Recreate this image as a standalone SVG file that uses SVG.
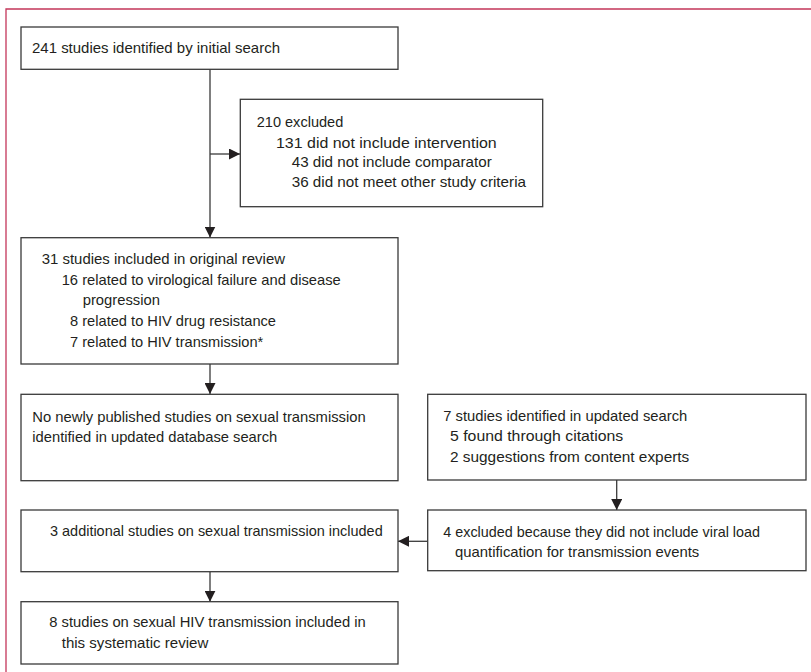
<svg xmlns="http://www.w3.org/2000/svg" width="811" height="672" viewBox="0 0 811 672">
<style>
.box{fill:#fff;stroke:#3a3a3a;stroke-width:1.3}
.t{font-family:"Liberation Sans",Arial,sans-serif;font-size:15px;fill:#231f20}
.c{stroke:#3a3a3a;stroke-width:1.3;fill:none;marker-end:url(#ah)}
.frame{stroke:#c4365a;stroke-width:1.3;fill:none}
</style>
<defs>
<marker id="ah" markerUnits="userSpaceOnUse" markerWidth="12" markerHeight="11" refX="11" refY="5.5" orient="auto">
<path d="M0,0 L11,5.5 L0,11 z" fill="#231f20"/>
</marker>
</defs>
<rect width="811" height="672" fill="#fff"/>
<path class="frame" d="M6,672 L6,9 L811,9"/>
<g id="connectors">
<line class="c" x1="210" y1="69" x2="210" y2="237.5"/>
<line class="c" x1="210" y1="154" x2="240" y2="154"/>
<line class="c" x1="210" y1="364" x2="210" y2="394"/>
<line class="c" x1="616.7" y1="480" x2="616.7" y2="510"/>
<line class="c" x1="427.7" y1="541.3" x2="398" y2="541.3"/>
<line class="c" x1="210" y1="571.7" x2="210" y2="601.7"/>
</g>
<g id="n1">
<rect class="box" x="21" y="27" width="377" height="42.3"/>
<text class="t" x="32" y="53" textLength="248" lengthAdjust="spacingAndGlyphs">241 studies identified by initial search</text>
</g>
<g id="n2">
<rect class="box" x="240.3" y="99.3" width="302.4" height="107.4"/>
<text class="t" x="256.7" y="127" textLength="86.6" lengthAdjust="spacingAndGlyphs">210 excluded</text>
<text class="t" x="276" y="148" textLength="220.7" lengthAdjust="spacingAndGlyphs">131 did not include intervention</text>
<text class="t" x="291.7" y="167" textLength="200" lengthAdjust="spacingAndGlyphs">43 did not include comparator</text>
<text class="t" x="291.7" y="187" textLength="234.3" lengthAdjust="spacingAndGlyphs">36 did not meet other study criteria</text>
</g>
<g id="n3">
<rect class="box" x="21" y="237.7" width="377" height="126.3"/>
<text class="t" x="41.7" y="264" textLength="243.3" lengthAdjust="spacingAndGlyphs">31 studies included in original review</text>
<text class="t" x="61.7" y="285" textLength="279" lengthAdjust="spacingAndGlyphs">16 related to virological failure and disease</text>
<text class="t" x="82.7" y="305" textLength="77.3" lengthAdjust="spacingAndGlyphs">progression</text>
<text class="t" x="70" y="326" textLength="206" lengthAdjust="spacingAndGlyphs">8 related to HIV drug resistance</text>
<text class="t" x="70" y="346.5" textLength="193.3" lengthAdjust="spacingAndGlyphs">7 related to HIV transmission*</text>
</g>
<g id="n4">
<rect class="box" x="21" y="394.3" width="377" height="86.4"/>
<text class="t" x="32.3" y="421.5" textLength="333.4" lengthAdjust="spacingAndGlyphs">No newly published studies on sexual transmission</text>
<text class="t" x="32.3" y="441.5" textLength="245" lengthAdjust="spacingAndGlyphs">identified in updated database search</text>
</g>
<g id="n5">
<rect class="box" x="427.7" y="394.3" width="378.3" height="85.7"/>
<text class="t" x="443.3" y="420.7" textLength="244" lengthAdjust="spacingAndGlyphs">7 studies identified in updated search</text>
<text class="t" x="450" y="440.5" textLength="173.3" lengthAdjust="spacingAndGlyphs">5 found through citations</text>
<text class="t" x="450" y="461.5" textLength="239.3" lengthAdjust="spacingAndGlyphs">2 suggestions from content experts</text>
</g>
<g id="n6">
<rect class="box" x="427.7" y="510" width="378.3" height="60.7"/>
<text class="t" x="443.3" y="536.5" textLength="316.7" lengthAdjust="spacingAndGlyphs">4 excluded because they did not include viral load</text>
<text class="t" x="455" y="556.5" textLength="244.3" lengthAdjust="spacingAndGlyphs">quantification for transmission events</text>
</g>
<g id="n7">
<rect class="box" x="21" y="510" width="377" height="61.7"/>
<text class="t" x="50" y="536" textLength="332.7" lengthAdjust="spacingAndGlyphs">3 additional studies on sexual transmission included</text>
</g>
<g id="n8">
<rect class="box" x="21" y="601.7" width="377" height="62.3"/>
<text class="t" x="49.3" y="627.3" textLength="316.4" lengthAdjust="spacingAndGlyphs">8 studies on sexual HIV transmission included in</text>
<text class="t" x="61.7" y="648.3" textLength="146.6" lengthAdjust="spacingAndGlyphs">this systematic review</text>
</g>
</svg>
